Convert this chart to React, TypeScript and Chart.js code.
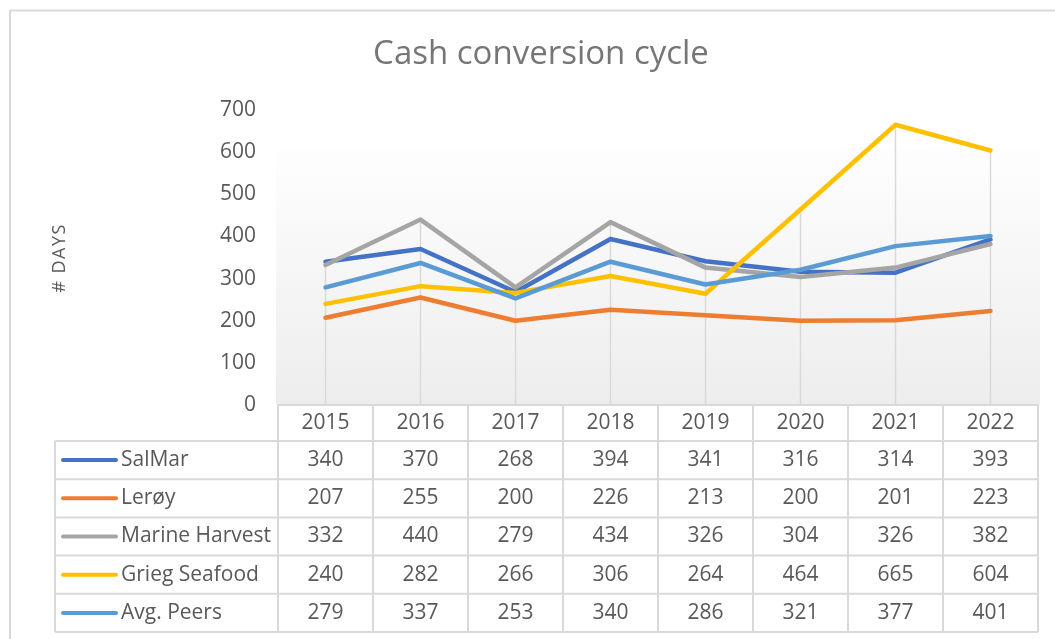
import React, { useEffect, useRef } from "react";
import { Chart, registerables } from "chart.js";

Chart.register(...registerables);

const categories = ["2015", "2016", "2017", "2018", "2019", "2020", "2021", "2022"];
const salmar = [340, 370, 268, 394, 341, 316, 314, 393];
const leroy = [207, 255, 200, 226, 213, 200, 201, 223];
const marineHarvest = [332, 440, 279, 434, 326, 304, 326, 382];
const griegSeafood = [240, 282, 266, 306, 264, 464, 665, 604];
const avgPeers = [279, 337, 253, 340, 286, 321, 377, 401];
const seriesNames = ["SalMar", "Lerøy", "Marine Harvest", "Grieg Seafood", "Avg. Peers"];
const seriesValues = [salmar, leroy, marineHarvest, griegSeafood, avgPeers];
const seriesColors = ["#4472C4", "#ED7D31", "#A5A5A5", "#FFC000", "#5B9BD5"];
const titleText = "Cash conversion cycle";
const yTitleText = "# DAYS";
const yMin = 0;
const yMax = 700;
const yStep = 100;

const FONT = '"Open Sans", "DejaVu Sans", sans-serif';
const TEXT = "#595959";
const BORDER = "#d9d9d9";

const decorPlugin = {
  id: "decor",
  beforeDraw(chart: any) {
    const ctx = chart.ctx;
    const a = chart.chartArea;
    ctx.save();
    ctx.fillStyle = "#ffffff";
    ctx.fillRect(0, 0, chart.width, chart.height);
    // frame
    ctx.strokeStyle = BORDER;
    ctx.lineWidth = 2;
    ctx.strokeRect(10, 10.5, chart.width + 20, chart.height + 20);
    // plot area gradient
    const top = a.top + 39;
    const g = ctx.createLinearGradient(0, top, 0, a.bottom);
    g.addColorStop(0, "#fefefe");
    g.addColorStop(1, "#ededed");
    ctx.fillStyle = g;
    ctx.fillRect(a.left - 2, top, a.right - a.left + 4, a.bottom - top);
    ctx.restore();
  },
  beforeDatasetsDraw(chart: any) {
    // drop lines from the highest point of each category to the axis
    const ctx = chart.ctx;
    const a = chart.chartArea;
    const xs = chart.scales.x;
    const ys = chart.scales.y;
    ctx.save();
    ctx.strokeStyle = BORDER;
    ctx.lineWidth = 1.5;
    ctx.beginPath();
    categories.forEach((_, i) => {
      const maxV = Math.max(...seriesValues.map((s) => s[i]));
      const x = xs.getPixelForValue(i);
      ctx.moveTo(x, ys.getPixelForValue(maxV));
      ctx.lineTo(x, a.bottom);
    });
    ctx.stroke();
    ctx.restore();
  },
  afterDraw(chart: any) {
    const ctx = chart.ctx;
    const a = chart.chartArea;
    const xs = chart.scales.x;
    ctx.save();
    // title
    ctx.fillStyle = "#767676";
    ctx.font = `33px ${FONT}`;
    ctx.textAlign = "center";
    ctx.textBaseline = "middle";
    ctx.fillText(titleText, (a.left + a.right) / 2 - 117, 55);
    // y title
    ctx.fillStyle = TEXT;
    ctx.save();
    ctx.translate(60, 258);
    ctx.rotate(-Math.PI / 2);
    ctx.font = `18px ${FONT}`;
    try {
      (ctx as any).letterSpacing = "1.5px";
    } catch (e) {}
    ctx.fillText(yTitleText, 0, 0);
    ctx.restore();

    // table
    const n = categories.length;
    const colW = (a.right - a.left) / n;
    const headTop = a.bottom;
    const headBot = a.bottom + 36;
    const rowH = 38.2;
    const tableLeft = 55;
    const tableBottom = headBot + rowH * seriesNames.length;
    ctx.strokeStyle = BORDER;
    ctx.lineWidth = 2;
    ctx.beginPath();
    ctx.moveTo(a.left, headTop);
    ctx.lineTo(a.right, headTop);
    for (let r = 0; r <= seriesNames.length; r++) {
      const y = headBot + r * rowH;
      ctx.moveTo(tableLeft, y);
      ctx.lineTo(a.right, y);
    }
    for (let i = 0; i <= n; i++) {
      const x = a.left + i * colW;
      ctx.moveTo(x, headTop);
      ctx.lineTo(x, tableBottom);
    }
    ctx.moveTo(tableLeft, headBot);
    ctx.lineTo(tableLeft, tableBottom);
    ctx.stroke();

    ctx.font = `21px ${FONT}`;
    ctx.textBaseline = "middle";
    seriesNames.forEach((name, r) => {
      const cy = headBot + r * rowH + rowH / 2;
      ctx.strokeStyle = seriesColors[r];
      ctx.lineWidth = 4;
      ctx.lineCap = "round";
      ctx.beginPath();
      ctx.moveTo(63, cy);
      ctx.lineTo(116, cy);
      ctx.stroke();
      ctx.fillStyle = TEXT;
      ctx.textAlign = "left";
      ctx.fillText(name, 121, cy);
      ctx.textAlign = "center";
      seriesValues[r].forEach((v, i) => {
        ctx.fillText(String(v), xs.getPixelForValue(i), cy);
      });
    });
    ctx.restore();
  },
};

export default function App() {
  const ref = useRef<HTMLCanvasElement | null>(null);
  useEffect(() => {
    if (!ref.current) return;
    const chart = new Chart(ref.current, {
      type: "line",
      data: {
        labels: categories,
        datasets: seriesNames.map((name, i) => ({
          label: name,
          data: seriesValues[i],
          borderColor: seriesColors[i],
          backgroundColor: seriesColors[i],
          borderWidth: 4.5,
          pointRadius: 0,
          tension: 0,
          borderJoinStyle: "round" as const,
          borderCapStyle: "round" as const,
          order: seriesNames.length - i,
        })),
      },
      options: {
        responsive: false,
        animation: false,
        layout: { padding: { top: 110, right: 17, bottom: 198, left: 0 } },
        plugins: {
          legend: { display: false },
          title: { display: false },
          tooltip: { enabled: false },
        },
        scales: {
          x: {
            offset: true,
            grid: { display: false, drawTicks: false },
            border: { display: false },
            ticks: { color: TEXT, font: { family: FONT, size: 21 }, padding: 5 },
            afterFit: (s: any) => {
              s.height = 36;
            },
          },
          y: {
            min: yMin,
            max: yMax,
            ticks: { stepSize: yStep, color: TEXT, font: { family: FONT, size: 21 }, padding: 22 },
            grid: { display: false, drawTicks: false },
            border: { display: false },
            afterFit: (s: any) => {
              s.width = 278;
            },
          },
        },
      },
      plugins: [decorPlugin],
    });
    return () => chart.destroy();
  }, []);
  return (
    <div style={{ position: "fixed", left: 0, top: 0, width: 1055, height: 639 }}>
      <canvas ref={ref} width={1055} height={639} style={{ width: 1055, height: 639 }} />
    </div>
  );
}
